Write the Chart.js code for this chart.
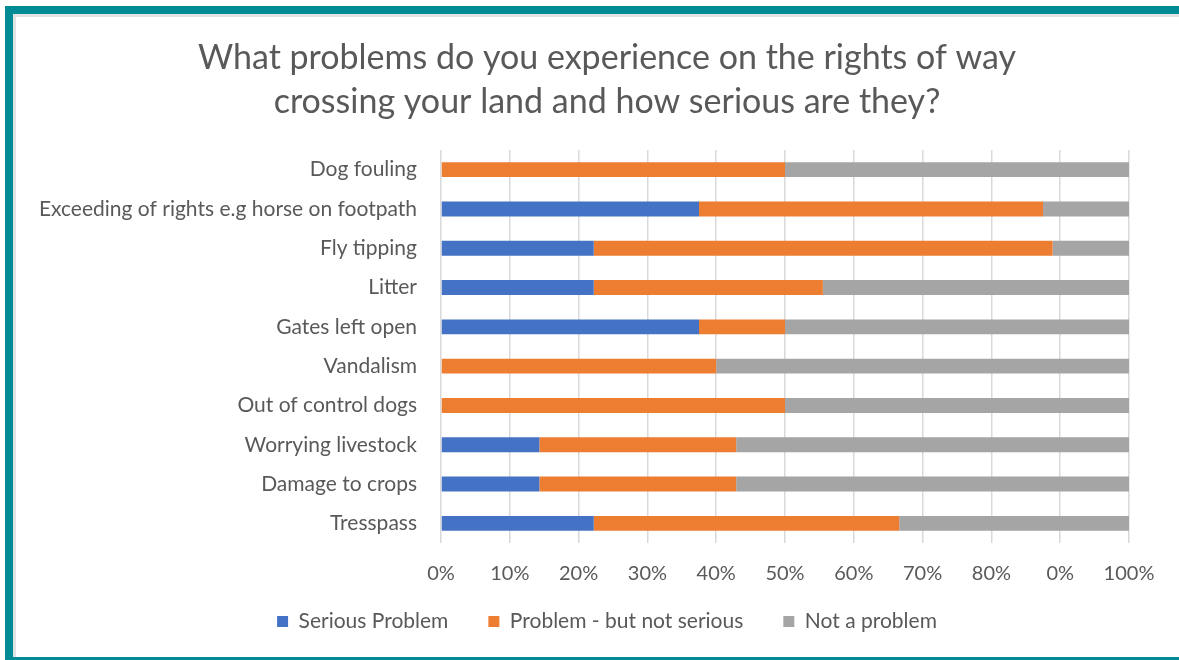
<!DOCTYPE html>
<html>
<head>
<meta charset="utf-8">
<script src="https://cdn.jsdelivr.net/npm/chart.js@4.4.0/dist/chart.umd.min.js"></script>
<style>
    html, body { margin: 0; padding: 0; background: #fff; }
    #page { position: relative; width: 1179px; height: 660px; overflow: hidden; background: #fff; }
    #frame {
        position: absolute; left: 5px; top: 6px; right: -10px; bottom: 0;
        border-top: 8px solid #008b95; border-left: 8px solid #008b95; border-bottom: 3px solid #008b95;
    }
    #inner {
        position: absolute; left: 0; top: 0; right: 0; bottom: 0;
        border-top: 3px solid #e3e3e3; border-left: 3px solid #e3e3e3;
    }
    #chartBox { position: absolute; left: 0; top: 0; width: 1179px; height: 660px; }
</style>
</head>
<body>
<div id="page">
    <div id="frame"><div id="inner"></div></div>
    <div id="chartBox"><canvas id="problemsChart"></canvas></div>
</div>
<script>
// Chart data
const categories = [
    'Dog fouling',
    'Exceeding of rights e.g horse on footpath',
    'Fly tipping',
    'Litter',
    'Gates left open',
    'Vandalism',
    'Out of control dogs',
    'Worrying livestock',
    'Damage to crops',
    'Tresspass'
];
const seriousProblem = [0, 37.5, 22.2, 22.2, 37.5, 0, 0, 14.3, 14.3, 22.2];
const notSerious = [50, 50, 66.7, 33.3, 12.5, 40, 50, 28.6, 28.6, 44.4];
const notAProblem = [50, 12.5, 11.1, 44.5, 50, 60, 50, 57.1, 57.1, 33.4];
const tickLabels = ['0%', '10%', '20%', '30%', '40%', '50%', '60%', '70%', '80%', '0%', '100%'];

const textColor = '#595959';
const fontFamily = "Lato, 'Open Sans', sans-serif";

// let axis labels spill outside their own boxes (long category names, tick row)
const noLabelClip = {
    id: 'noLabelClip',
    beforeDraw: function(chart) {
        Object.values(chart.scales).forEach(s => {
            s._computeLabelArea = function() { return undefined; };
        });
    }
};

document.addEventListener('DOMContentLoaded', function() {
    const ctx = document.getElementById('problemsChart');
    new Chart(ctx, {
        type: 'bar',
        data: {
            labels: categories,
            datasets: [{
                label: 'Serious Problem',
                data: seriousProblem,
                backgroundColor: '#4472c4'
            }, {
                label: 'Problem - but not serious',
                data: notSerious,
                backgroundColor: '#ed7d31'
            }, {
                label: 'Not a problem',
                data: notAProblem,
                backgroundColor: '#a5a5a5'
            }]
        },
        plugins: [noLabelClip],
        options: {
            indexAxis: 'y',
            responsive: true,
            maintainAspectRatio: false,
            animation: false,
            datasets: {
                bar: {
                    categoryPercentage: 1,
                    barPercentage: 0.38,
                    borderWidth: 0
                }
            },
            layout: {
                padding: { left: 85, right: 50, top: 0, bottom: 18 }
            },
            plugins: {
                title: {
                    display: true,
                    text: ['What problems do you experience on the rights of way',
                           'crossing your land and how serious are they?'],
                    color: textColor,
                    font: { family: fontFamily, size: 34, weight: 'normal', lineHeight: 1.294 },
                    padding: { top: 36, bottom: 26 }
                },
                legend: {
                    position: 'bottom',
                    labels: {
                        color: textColor,
                        font: { family: fontFamily, size: 21 },
                        boxWidth: 11,
                        boxHeight: 11,
                        padding: 40
                    }
                },
                tooltip: { enabled: false }
            },
            scales: {
                x: {
                    stacked: true,
                    min: 0,
                    max: 100,
                    ticks: {
                        stepSize: 10,
                        color: textColor,
                        font: { family: fontFamily, size: 20 },
                        padding: 19,
                        callback: function(value, index) {
                            return tickLabels[index];
                        }
                    },
                    grid: {
                        color: '#d9d9d9',
                        lineWidth: 1.5,
                        drawTicks: false
                    },
                    border: { display: false },
                    afterFit: function(scale) {
                        scale.height = 28;
                    }
                },
                y: {
                    stacked: true,
                    ticks: {
                        color: textColor,
                        font: { family: fontFamily, size: 21 },
                        padding: 24
                    },
                    grid: { display: false, drawTicks: false },
                    border: { display: false },
                    afterFit: function(scale) {
                        scale.width = 356;
                    }
                }
            }
        }
    });
});
</script>
</body>
</html>
